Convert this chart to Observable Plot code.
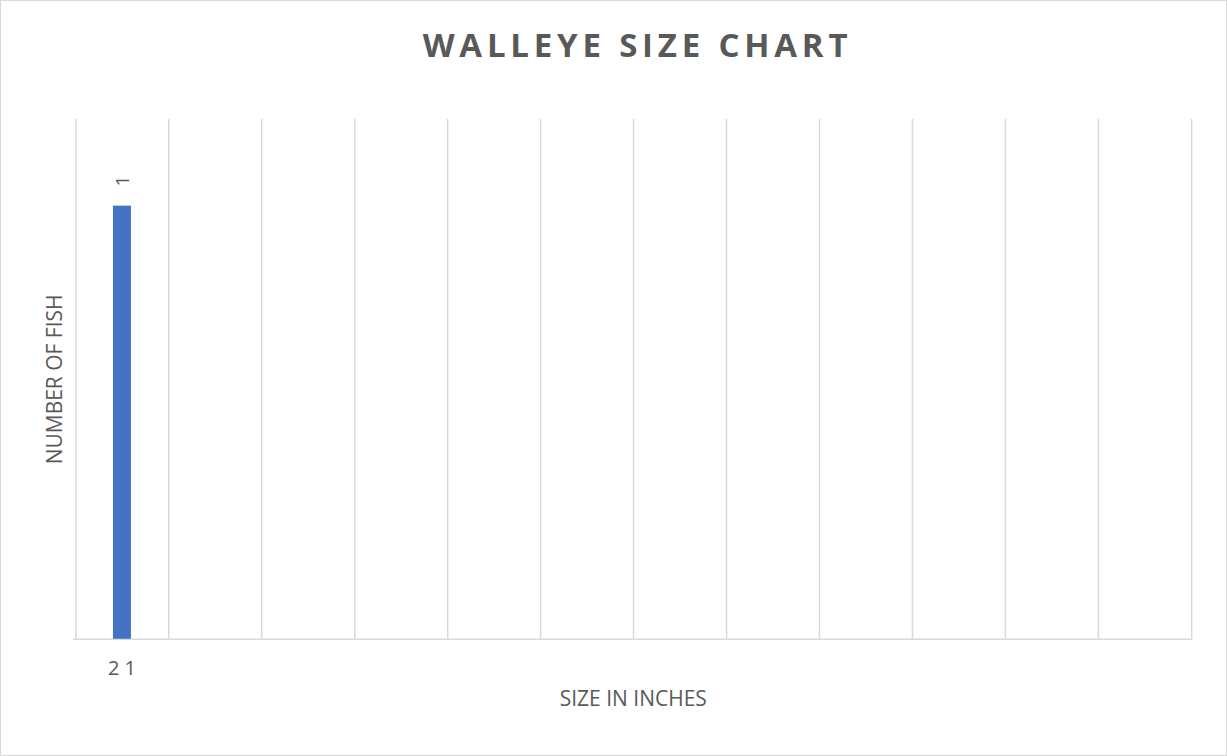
<!DOCTYPE html>
<html>
<head>
<meta charset="utf-8">
<script src="https://cdn.jsdelivr.net/npm/d3@7"></script>
<script src="https://cdn.jsdelivr.net/npm/@observablehq/plot@0.6"></script>
<style>
  html, body { margin: 0; padding: 0; background: #ffffff; }
  #chart {
    position: relative; width: 1227px; height: 756px;
    box-sizing: border-box; border: 1.5px solid #d9d9d9; background: #fff;
    font-family: "Open Sans", sans-serif; overflow: hidden;
  }
  #title {
    position: absolute; left: 0; top: -1px; width: 1227px; height: 90px;
    line-height: 90px; text-align: center; padding-left: 46px; box-sizing: border-box;
    font-family: "Open Sans", sans-serif; font-weight: 700; font-size: 33px;
    letter-spacing: 4.8px; color: #595959;
  }
  #plot { position: absolute; left: -1.5px; top: 98px; }
  g[aria-label="x-axis tick label"] text { letter-spacing: 5px; }
</style>
</head>
<body>
<div id="chart">
  <div id="title">WALLEYE SIZE CHART</div>
  <div id="plot"></div>
</div>
<script>
// ---- data ----
const titleText = "WALLEYE SIZE CHART";
const xTitle = "SIZE IN INCHES";
const yTitle = "NUMBER OF FISH";
const sizeLabels = ["21", "", "", "", "", "", "", "", "", "", "", ""];
const fishCounts = [1, null, null, null, null, null, null, null, null, null, null, null];
const yDomain = [0, 1.2];

// ---- layout ----
const W = 1227, H = 640;
const mL = 73, mR = 34, mT = 20, mB = 100;
const step = (W - mL - mR) / sizeLabels.length;
const grey = "#595959", gridColor = "#d9d9d9", barColor = "#4472C4";

const data = sizeLabels.map((label, i) => ({i, label, count: fishCounts[i]}));
const lastCat = [data[data.length - 1]];

const chart = Plot.plot({
  width: W, height: H,
  marginLeft: mL, marginRight: mR, marginTop: mT, marginBottom: mB,
  style: {fontFamily: "'Open Sans', sans-serif", background: "transparent", color: grey},
  x: {type: "band", domain: data.map(d => d.i), paddingInner: 0.81, paddingOuter: 0.405, axis: null},
  y: {domain: yDomain, axis: null},
  marks: [
    Plot.ruleX(data, {x: "i", dx: -step / 2, stroke: gridColor, strokeWidth: 1.5}),
    Plot.ruleX(lastCat, {x: "i", dx: step / 2, stroke: gridColor, strokeWidth: 1.5}),
    Plot.ruleY([0], {stroke: gridColor, strokeWidth: 1.5}),
    Plot.barY(data, {x: "i", y: "count", fill: barColor}),
    Plot.text(data, {x: "i", y: "count", text: d => d.count == null ? null : String(d.count),
      rotate: -90, dy: -25, fontSize: 19, fill: grey}),
    Plot.axisX({tickSize: 0, tickPadding: 22, fontSize: 20, fill: grey, dx: 2,
      tickFormat: i => sizeLabels[i], label: null}),
    Plot.text([xTitle], {frameAnchor: "bottom", dy: 67, text: d => d, fontSize: 21, fill: grey}),
    Plot.text([yTitle], {frameAnchor: "left", textAnchor: "middle", dx: -18, rotate: -90,
      text: d => d, fontSize: 21, fill: grey})
  ]
});
document.getElementById("plot").appendChild(chart);
</script>
</body>
</html>
